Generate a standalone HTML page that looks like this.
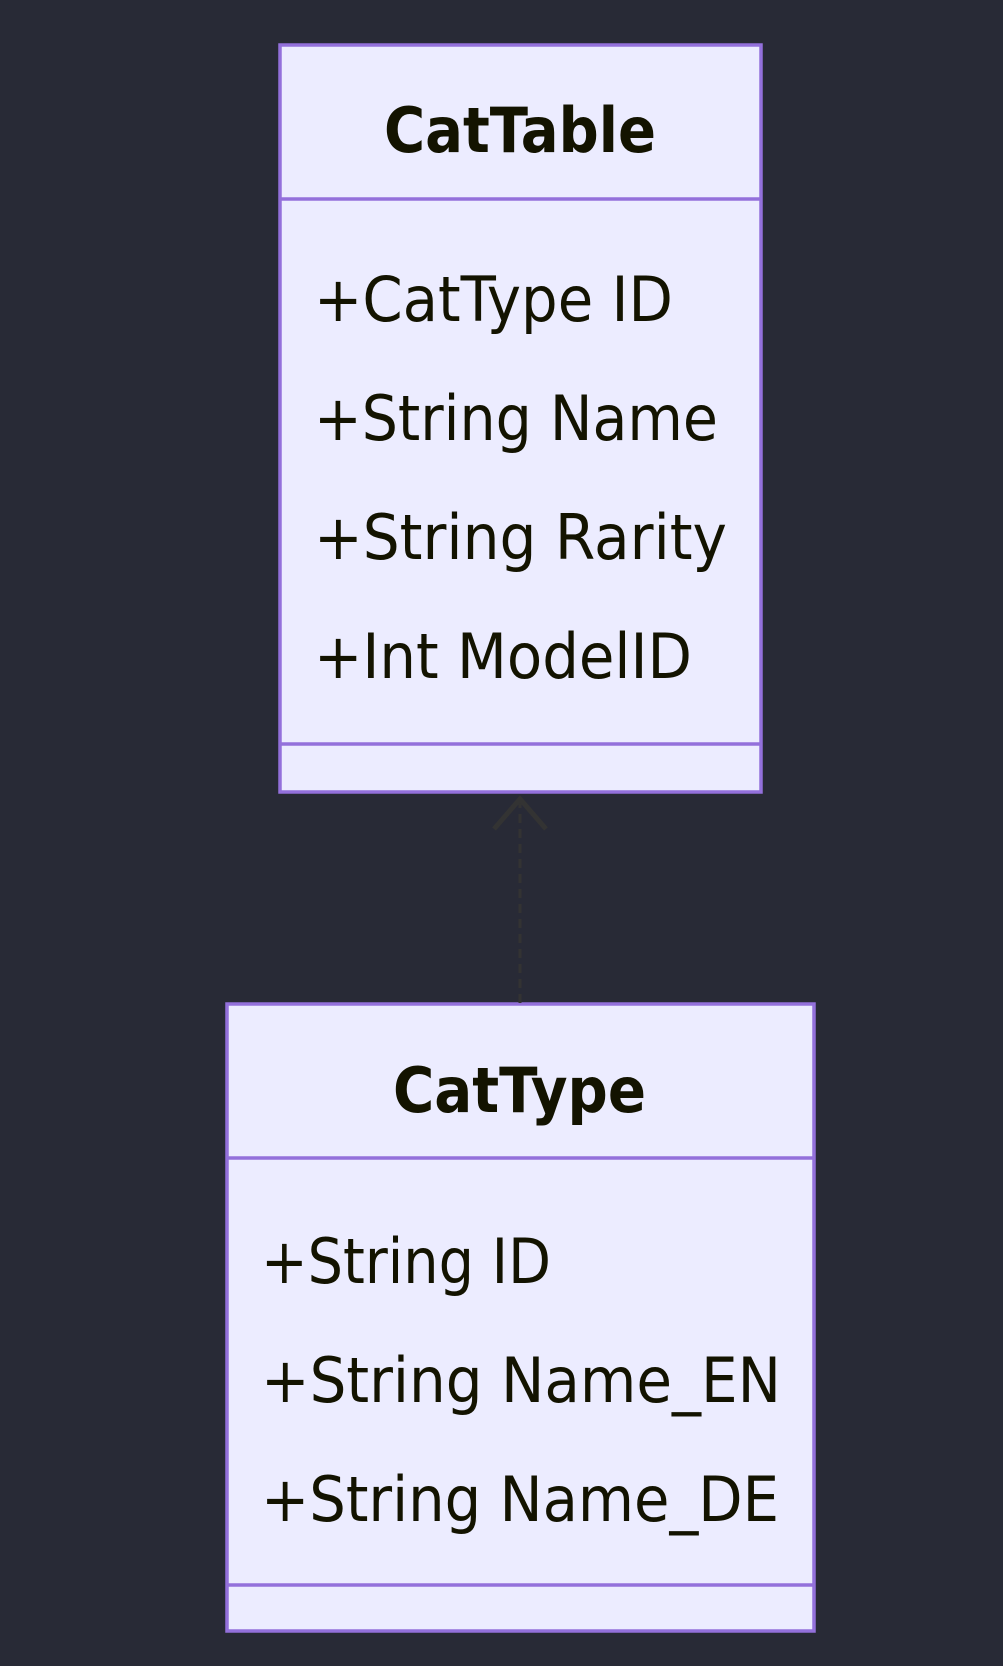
<!DOCTYPE html>
<html><head><style>html,body{margin:0;padding:0;background:#282a36;}svg{display:block}</style></head>
<body>
<svg width="1003" height="1666" viewBox="0 0 1003 1666" xmlns="http://www.w3.org/2000/svg">
<rect width="1003" height="1666" fill="#282a36"/>
<g fill="#ececff" stroke="#9370db" stroke-width="3.5">
<rect x="280" y="45" width="481" height="747"/>
<line x1="280" y1="199" x2="761" y2="199"/>
<line x1="280" y1="744" x2="761" y2="744"/>
<rect x="227" y="1004" width="587" height="627"/>
<line x1="227" y1="1158" x2="814" y2="1158"/>
<line x1="227" y1="1585" x2="814" y2="1585"/>
</g>
<line x1="520" y1="1003" x2="520" y2="800" stroke="#333" stroke-width="3" stroke-dasharray="9,6"/>
<polyline points="494,829 520,799 546,829" fill="none" stroke="#333" stroke-width="5"/>
<g font-family="'DejaVu Sans','Liberation Sans',sans-serif" fill="#131300" font-size="62">
<text x="384" y="152" font-weight="bold" textLength="272" lengthAdjust="spacingAndGlyphs">CatTable</text>
<text x="314" y="321" textLength="359" lengthAdjust="spacingAndGlyphs">+CatType ID</text>
<text x="314" y="440" textLength="404" lengthAdjust="spacingAndGlyphs">+String Name</text>
<text x="314" y="559" textLength="413" lengthAdjust="spacingAndGlyphs">+String Rarity</text>
<text x="314" y="678" textLength="378" lengthAdjust="spacingAndGlyphs">+Int ModelID</text>
<text x="393" y="1112" font-weight="bold" textLength="253" lengthAdjust="spacingAndGlyphs">CatType</text>
<text x="261" y="1283" textLength="290" lengthAdjust="spacingAndGlyphs">+String ID</text>
<text x="261" y="1402" textLength="520" lengthAdjust="spacingAndGlyphs">+String Name_EN</text>
<text x="261" y="1521" textLength="518" lengthAdjust="spacingAndGlyphs">+String Name_DE</text>
</g>
</svg>
</body></html>
